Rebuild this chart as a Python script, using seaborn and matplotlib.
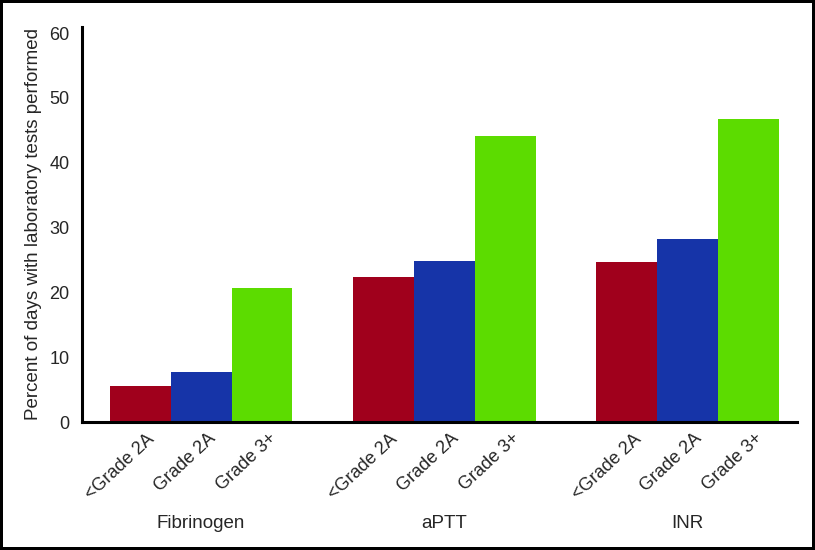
# grouped bars: share of days with lab tests performed, by test and grade

import pandas as pd
import matplotlib.pyplot as plt
import matplotlib.transforms as mtransforms
from matplotlib import font_manager
import seaborn as sns

# data
tests = ["Fibrinogen", "aPTT", "INR"]
grades = ["<Grade 2A", "Grade 2A", "Grade 3+"]
below_2a = [5.5, 22.4, 24.7]
grade_2a = [7.7, 24.9, 28.3]
grade_3p = [20.7, 44.1, 46.7]
bar_colors = ["#a0001c", "#1634a8", "#5cdc00"]

df = pd.DataFrame({
    "test": tests * 3,
    "grade": [g for g in grades for _ in tests],
    "pct": below_2a + grade_2a + grade_3p,
})

sns.set_theme(style="white")
plt.rcParams["font.family"] = ["Liberation Sans", "DejaVu Sans"]

# narrow face for the y label if it exists
names = {f.name for f in font_manager.fontManager.ttflist}
if "Liberation Sans Narrow" in names:
    ylab_font, ylab_size = "Liberation Sans Narrow", 15.5
else:
    ylab_font, ylab_size = "Liberation Sans", 13.5

fig = plt.figure(figsize=(8.15, 5.5), dpi=100)
ax = fig.add_axes([0.1006, 0.2327, 0.8774, 0.7188])

sns.barplot(data=df, x="test", y="pct", hue="grade", order=tests, hue_order=grades,
            palette=bar_colors, width=0.75, saturation=1, linewidth=0, ax=ax, legend=False)

ax.set_ylim(0, 61)
ax.set_xlim(-0.49, 2.45)
ax.set_yticks(range(0, 61, 10))
ax.tick_params(axis="y", labelsize=13, length=6, width=1.5, color="black", pad=3)

# one tick label per bar, rotated
centers = sorted(p.get_x() + p.get_width() / 2 for p in ax.patches if p.get_height() > 0)
ax.set_xticks(centers)
ax.set_xticklabels(grades * len(tests), rotation=43, ha="right", rotation_mode="anchor", fontsize=13)
ax.tick_params(axis="x", length=0, pad=6)
for lab in ax.get_xticklabels():
    lab.set_transform(lab.get_transform() + mtransforms.ScaledTranslation(6 / 100, 0, fig.dpi_scale_trans))

# group names under the tick labels
trans = mtransforms.blended_transform_factory(ax.transData, fig.transFigure)
for i, t in enumerate(tests):
    ax.text(i, 1 - 523 / 550, t, transform=trans, ha="center", va="center", fontsize=13.5)

ax.set_xlabel("")
ax.set_ylabel("Percent of days with laboratory tests performed", fontsize=ylab_size,
              family=[ylab_font, "DejaVu Sans"], labelpad=5)

for s in ["top", "right"]:
    ax.spines[s].set_visible(False)
for s in ["left", "bottom"]:
    ax.spines[s].set_linewidth(2.2)
    ax.spines[s].set_color("black")

fig.patch.set_edgecolor("black")
fig.patch.set_linewidth(4)

fig.savefig("out.png", dpi=100)
